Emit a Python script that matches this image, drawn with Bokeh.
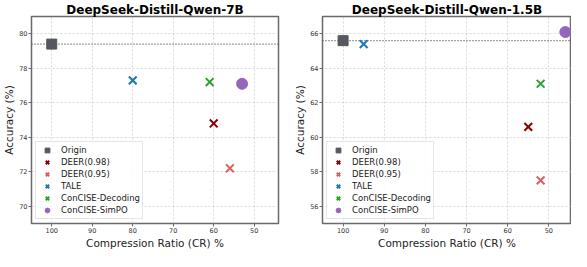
from bokeh.plotting import figure
from bokeh.layouts import row
from bokeh.models import FixedTicker, Span, Legend, LegendItem, Range1d, ColumnDataSource
from bokeh.embed import file_html
from bokeh.resources import INLINE

methods = ["Origin", "DEER(0.98)", "DEER(0.95)", "TALE", "ConCISE-Decoding", "ConCISE-SimPO"]
markers = ["square", "x", "x", "x", "x", "circle"]
colors = ["#55585e", "#8b0000", "#d9605f", "#1f77b4", "#2ca02c", "#9467bd"]

cr_7b = [100, 60, 56, 80, 61, 53]
acc_7b = [79.4, 74.8, 72.2, 77.3, 77.2, 77.1]
cr_15b = [100, 55, 52, 95, 52, 46]
acc_15b = [65.6, 60.6, 57.5, 65.4, 63.1, 66.1]

x_ticks = [100, 90, 80, 70, 60, 50]
y_ticks_7b = [70, 72, 74, 76, 78, 80]
y_ticks_15b = [56, 58, 60, 62, 64, 66]

FONT = "DejaVu Sans"


def make_panel(title, cr, acc, yticks, yr, xr, width, bl, br):
    p = figure(width=width, height=251, output_backend="svg", toolbar_location=None,
               x_range=Range1d(*xr), y_range=Range1d(*yr),
               min_border_left=bl, min_border_right=br, min_border_top=0, min_border_bottom=0)
    p.title.text = title
    p.title.text_font = FONT
    p.title.text_font_size = "12px"
    p.title.text_font_style = "bold"
    p.title.text_color = "#000000"
    p.title.align = "center"
    p.title.standoff = 0
    p.title.offset = 0
    p.outline_line_color = "#6a6a6a"
    p.outline_line_width = 1.5
    for ax in (p.xaxis, p.yaxis):
        ax.axis_line_color = None
        ax.major_tick_out = 3
        ax.major_tick_in = 0
        ax.major_tick_line_color = "#6a6a6a"
        ax.minor_tick_line_color = None
        ax.major_label_text_font = FONT
        ax.major_label_text_font_size = "6.5px"
        ax.major_label_text_color = "#333333"
        ax.major_label_standoff = 1
        ax.axis_label_text_font = FONT
        ax.axis_label_text_font_size = "10.5px"
        ax.axis_label_text_font_style = "normal"
        ax.axis_label_text_color = "#222222"
        ax.axis_label_standoff = 1
    p.xaxis.ticker = FixedTicker(ticks=x_ticks)
    p.yaxis.ticker = FixedTicker(ticks=yticks)
    p.xaxis.axis_label = "Compression Ratio (CR) %"
    p.yaxis.axis_label = "Accuracy (%)"
    p.grid.grid_line_color = "#bdbdbd"
    p.grid.grid_line_dash = "2 2"
    p.grid.grid_line_width = 0.7
    p.grid.grid_line_alpha = 0.8

    span = Span(location=acc[0], dimension="width", line_color="#444444",
                line_dash="1 2", line_width=1.3, level="underlay")
    p.add_layout(span)

    items = []
    for i, m in enumerate(methods):
        src = ColumnDataSource(dict(x=[cr[i]], y=[acc[i]]))
        if markers[i] == "square":
            r = p.scatter("x", "y", source=src, marker="square", size=10, color=colors[i])
        elif markers[i] == "circle":
            r = p.scatter("x", "y", source=src, marker="circle", size=11, color=colors[i])
        else:
            r = p.scatter("x", "y", source=src, marker="x", size=11, line_color=colors[i],
                          line_width=2)
        items.append(LegendItem(label=m, renderers=[r]))

    leg = Legend(items=items, location="bottom_left")
    leg.margin = 4
    leg.padding = 2
    leg.spacing = 0
    leg.glyph_height = 12
    leg.glyph_width = 18
    leg.label_height = 12
    leg.label_standoff = 5
    leg.label_text_font = FONT
    leg.label_text_font_size = "8.5px"
    leg.label_text_color = "#222222"
    leg.border_line_color = "#cccccc"
    leg.border_line_width = 1
    leg.background_fill_alpha = 0.85
    p.add_layout(leg, "center")
    return p


p1 = make_panel("DeepSeek-Distill-Qwen-7B", cr_7b, acc_7b, y_ticks_7b, (69, 81), (105, 44), 286, 25, 8)
p2 = make_panel("DeepSeek-Distill-Qwen-1.5B", cr_15b, acc_15b, y_ticks_15b, (55, 67), (105, 44.5), 285, 36, 0)

layout = row(p1, p2, spacing=0)
open("out.html", "w").write(file_html(layout, INLINE))
